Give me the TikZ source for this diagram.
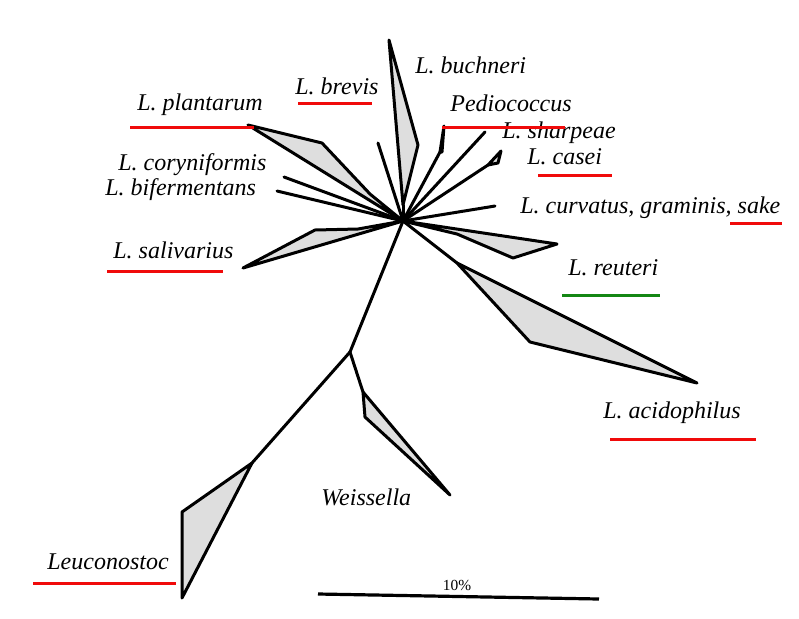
\documentclass[tikz,border=0pt]{standalone}
\usepackage{fontspec}
\setmainfont{Liberation Serif}
\usepackage{tikz}
\usetikzlibrary{positioning}
\definecolor{g1}{gray}{0.87}
\definecolor{ured}{RGB}{240,10,10}
\definecolor{ugreen}{RGB}{20,135,20}

\begin{document}
\begin{tikzpicture}[
        x=0.5pt, y=-0.5pt,
        branch/.style={line width=1.5pt, line join=round, line cap=round},
        clade/.style={branch, fill=g1},
        taxon/.style={font=\fontsize{12}{14}\selectfont\itshape, inner sep=0pt, anchor=west},
        redline/.style={line width=1.5pt, draw=ured},
        greenline/.style={line width=1.5pt, draw=ugreen}
    ]
        \useasboundingbox (0,0) rectangle (799,618);

        % INNER POINTS OF THE TREE
        \coordinate (hub) at (403,221);
        \coordinate (fork) at (350,352);
        \coordinate (weiss) at (363,392);
        \coordinate (leuco) at (252,463);

        % LACTOBACILLUS STAR
        \filldraw[clade] (389,40) -- (418,145) -- (403,205) -- cycle;
        \draw[branch] (hub) -- (403,205);
        \filldraw[clade] (hub) -- (248,125) -- (322,143) -- (370,194) -- cycle;
        \draw[branch] (hub) -- (378,143);
        \draw[branch] (hub) -- (440,152);
        \filldraw[clade] (440,152) -- (444,126) -- (442,152) -- cycle;
        \draw[branch] (hub) -- (485,132);
        \draw[branch] (hub) -- (488,165);
        \filldraw[clade] (488,165) -- (501,151) -- (498,163) -- cycle;
        \draw[branch] (hub) -- (495,206);
        \draw[branch] (hub) -- (284,177);
        \draw[branch] (hub) -- (277,191);
        \filldraw[clade] (hub) -- (358,229) -- (315,230) -- (243,268) -- cycle;
        \filldraw[clade] (hub) -- (557,244) -- (513,258) -- (457,234) -- cycle;
        \draw[branch] (hub) -- (457,263);
        \filldraw[clade] (457,263) -- (697,383) -- (530,342) -- cycle;

        % TRUNK AND OUTGROUPS
        \draw[branch] (hub) -- (fork);
        \draw[branch] (fork) -- (weiss);
        \filldraw[clade] (weiss) -- (450,495) -- (365,417) -- cycle;
        \draw[branch] (fork) -- (leuco);
        \filldraw[clade] (leuco) -- (182,512) -- (182,598) -- cycle;

        % LABELS
        \node[taxon] (buchneri) at (415,65) {L. buchneri};
        \node[taxon] (brevis) at (295,86) {L. brevis};
        \node[taxon] (pedio) at (450,103) {Pediococcus};
        \node[taxon] (plantarum) at (137,105) {L. plantarum};
        \node[taxon] (sharpeae) at (502,133) {L. sharpeae};
        \node[taxon] (casei) at (527,157) {L. casei};
        \node[taxon] (coryni) at (118,165) {L. coryniformis};
        \node[taxon] (biferm) at (105,190) {L. bifermentans};
        \node[taxon] (curvatus) at (520,208) {L. curvatus, graminis, sake};
        \node[taxon] (salivarius) at (113,250) {L. salivarius};
        \node[taxon] (reuteri) at (568,268) {L. reuteri};
        \node[taxon] (acido) at (603,413) {L. acidophilus};
        \node[taxon] (weissella) at (321,497) {Weissella};
        \node[taxon] (leuconostoc) at (47,562) {Leuconostoc};

        % UNDERLINES
        \draw[redline] (130,127) -- (254,127);
        \draw[redline] (298,103) -- (372,103);
        \draw[redline] (442,127) -- (565,127);
        \draw[redline] (538,175) -- (612,175);
        \draw[redline] (730,223) -- (782,223);
        \draw[redline] (107,271) -- (223,271);
        \draw[redline] (610,439) -- (756,439);
        \draw[redline] (33,583) -- (176,583);
        \draw[greenline] (562,295) -- (660,295);

        % SCALE BAR
        \draw[line width=1.6pt] (318,594) -- (599,599);
        \node[font=\fontsize{7.7}{9}\selectfont, inner sep=0pt] (scale) at (457,585) {10\%};
    \end{tikzpicture}
\end{document}
